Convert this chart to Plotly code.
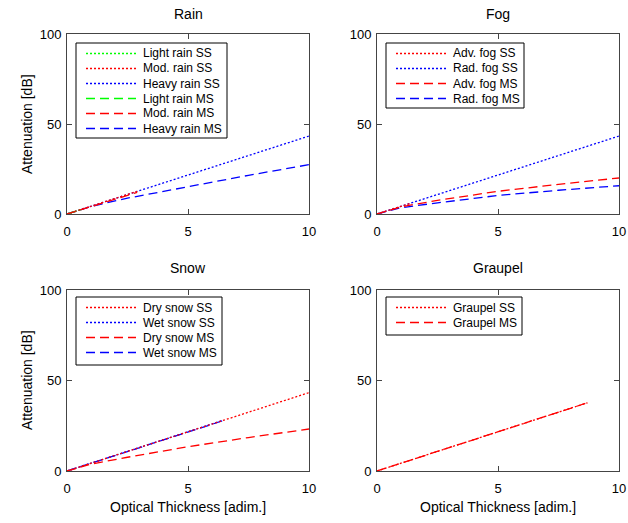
import plotly.graph_objects as go

# ---------------- data ----------------
# Rain
rain_light_ss_x = [0, 0.6]
rain_light_ss_y = [0, 2.6]
rain_mod_ss_x = [0, 1.5, 2.9]
rain_mod_ss_y = [0, 6.5, 12.6]
rain_heavy_ss_x = [0, 2.5, 5, 7.5, 10]
rain_heavy_ss_y = [0, 10.9, 21.8, 32.6, 43.3]
rain_light_ms_x = [0, 0.6]
rain_light_ms_y = [0, 2.5]
rain_mod_ms_x = [0, 1.5, 2.9]
rain_mod_ms_y = [0, 6.4, 12.0]
rain_heavy_ms_x = [0, 1, 2.5, 5, 7.5, 10]
rain_heavy_ms_y = [0, 4.2, 8.8, 15.3, 21.5, 27.4]

# Fog
fog_adv_ss_x = [0, 1.4]
fog_adv_ss_y = [0, 6.0]
fog_rad_ss_x = [0, 2.5, 5, 7.5, 10]
fog_rad_ss_y = [0, 10.9, 21.8, 32.6, 43.3]
fog_adv_ms_x = [0, 1, 2.5, 5, 7.5, 10]
fog_adv_ms_y = [0, 4.0, 7.6, 12.6, 16.5, 20.0]
fog_rad_ms_x = [0, 1, 2.5, 5, 7.5, 10]
fog_rad_ms_y = [0, 3.5, 6.2, 10.3, 13.2, 15.7]

# Snow
snow_dry_ss_x = [0, 2.5, 5, 7.5, 10]
snow_dry_ss_y = [0, 10.8, 21.7, 32.5, 43.3]
snow_wet_ss_x = [0, 3, 6.45]
snow_wet_ss_y = [0, 13.0, 28.0]
snow_dry_ms_x = [0, 1, 2.5, 5, 7.5, 10]
snow_dry_ms_y = [0, 3.8, 7.6, 13.4, 18.5, 23.2]
snow_wet_ms_x = [0, 3, 6.45]
snow_wet_ms_y = [0, 12.9, 27.8]

# Graupel
graupel_ss_x = [0, 4, 8.7]
graupel_ss_y = [0, 17.3, 37.7]
graupel_ms_x = [0, 4, 8.7]
graupel_ms_y = [0, 17.3, 37.7]

x_ticks = [0, 5, 10]
y_ticks = [0, 50, 100]

panel_titles = ["Rain", "Fog", "Snow", "Graupel"]
y_title = "Attenuation [dB]"
x_title = "Optical Thickness [adim.]"

GREEN = "#00ff00"
RED = "#ff0000"
BLUE = "#0000ff"
DOT = "2px,2px"
DASH = "9px,5px"
LW = 1.3
FONT = "Liberation Sans, Arial, sans-serif"

W, H = 628, 523
def px_x(p): return p / W
def px_y(p): return 1 - p / H

fig = go.Figure()

# panel -> list of (name, x, y, color, dash)
panels = {
    1: [("Light rain SS", rain_light_ss_x, rain_light_ss_y, GREEN, DOT),
        ("Mod. rain SS", rain_mod_ss_x, rain_mod_ss_y, RED, DOT),
        ("Heavy rain SS", rain_heavy_ss_x, rain_heavy_ss_y, BLUE, DOT),
        ("Light rain MS", rain_light_ms_x, rain_light_ms_y, GREEN, DASH),
        ("Mod. rain MS", rain_mod_ms_x, rain_mod_ms_y, RED, DASH),
        ("Heavy rain MS", rain_heavy_ms_x, rain_heavy_ms_y, BLUE, DASH)],
    2: [("Adv. fog SS", fog_adv_ss_x, fog_adv_ss_y, RED, DOT),
        ("Rad. fog SS", fog_rad_ss_x, fog_rad_ss_y, BLUE, DOT),
        ("Adv. fog MS", fog_adv_ms_x, fog_adv_ms_y, RED, DASH),
        ("Rad. fog MS", fog_rad_ms_x, fog_rad_ms_y, BLUE, DASH)],
    3: [("Dry snow SS", snow_dry_ss_x, snow_dry_ss_y, RED, DOT),
        ("Wet snow SS", snow_wet_ss_x, snow_wet_ss_y, BLUE, DOT),
        ("Dry snow MS", snow_dry_ms_x, snow_dry_ms_y, RED, DASH),
        ("Wet snow MS", snow_wet_ms_x, snow_wet_ms_y, BLUE, DASH)],
    4: [("Graupel SS", graupel_ss_x, graupel_ss_y, RED, DOT),
        ("Graupel MS", graupel_ms_x, graupel_ms_y, RED, DASH)],
}

# draw order so that red sits over blue where they overlap
for p, series in panels.items():
    sfx = "" if p == 1 else str(p)
    order = sorted(range(len(series)), key=lambda i: 0 if series[i][3] == BLUE else 1)
    for i in order:
        name, x, y, color, dash = series[i]
        fig.add_trace(go.Scatter(
            x=x, y=y, name=name, mode="lines",
            line=dict(color=color, width=LW, dash=dash),
            xaxis="x" + sfx, yaxis="y" + sfx, showlegend=False,
        ))

xd_left = [px_x(67), px_x(309)]
xd_right = [px_x(377), px_x(619)]
yd_top = [px_y(214), px_y(34)]
yd_bot = [px_y(471), px_y(290)]

def xaxis(domain, anchor):
    return dict(domain=domain, anchor=anchor, range=[0, 10], tickvals=x_ticks,
                ticks="inside", ticklen=5, tickcolor="#444", mirror="ticks",
                showline=True, linecolor="#444", linewidth=1, showgrid=False,
                zeroline=False, automargin=False, ticklabelstandoff=5,
                tickfont=dict(size=13, color="black", family=FONT))

def yaxis(domain, anchor):
    return dict(domain=domain, anchor=anchor, range=[0, 100], tickvals=y_ticks,
                ticks="inside", ticklen=5, tickcolor="#444", mirror="ticks",
                showline=True, linecolor="#444", linewidth=1, showgrid=False,
                zeroline=False, automargin=False, ticklabelstandoff=2,
                tickfont=dict(size=13, color="black", family=FONT))

annotations = []
shapes = []
def ann(text, x, y, size=14, angle=0, xanchor="center"):
    annotations.append(dict(text=text, x=px_x(x), y=px_y(y), xref="paper", yref="paper",
                            showarrow=False, textangle=angle,
                            font=dict(size=size, color="black", family=FONT),
                            xanchor=xanchor, yanchor="middle"))

title_pos = {1: (188, 14), 2: (498, 14), 3: (188, 268), 4: (498, 268)}
for p, t in zip([1, 2, 3, 4], panel_titles):
    ann(t, *title_pos[p])
ann(y_title, 27, 124, angle=-90)
ann(y_title, 27, 380, angle=-90)
ann(x_title, 188, 507)
ann(x_title, 498, 507)

# hand-built legends (box, line samples, labels) to match compact row spacing
legend_box = {1: (76, 43, 227, 138), 2: (386, 43, 524, 108),
              3: (76, 297, 222, 365), 4: (386, 297, 522, 335)}
for p, series in panels.items():
    x0, y0, x1, y1 = legend_box[p]
    shapes.append(dict(type="rect", xref="paper", yref="paper",
                       x0=px_x(x0), x1=px_x(x1), y0=px_y(y1), y1=px_y(y0),
                       line=dict(color="black", width=1), fillcolor="white", layer="above"))
    for i, (name, _, _, color, dash) in enumerate(series):
        yy = y0 + 10.5 + 15 * i
        shapes.append(dict(type="line", xref="paper", yref="paper",
                           x0=px_x(x0 + 10), x1=px_x(x0 + 60), y0=px_y(yy), y1=px_y(yy),
                           line=dict(color=color, width=LW, dash=dash), layer="above"))
        ann(name, x0 + 65, yy, size=12, xanchor="left")

fig.update_layout(
    width=W, height=H,
    margin=dict(l=0, r=0, t=0, b=0),
    paper_bgcolor="white", plot_bgcolor="white",
    font=dict(family=FONT, color="black"),
    showlegend=False,
    xaxis=xaxis(xd_left, "y"), yaxis=yaxis(yd_top, "x"),
    xaxis2=xaxis(xd_right, "y2"), yaxis2=yaxis(yd_top, "x2"),
    xaxis3=xaxis(xd_left, "y3"), yaxis3=yaxis(yd_bot, "x3"),
    xaxis4=xaxis(xd_right, "y4"), yaxis4=yaxis(yd_bot, "x4"),
    annotations=annotations, shapes=shapes,
)

fig.write_html(
    "out.html",
    config={"displayModeBar": False},
    post_script="document.body.style.margin='0';document.body.style.overflow='hidden';",
)
